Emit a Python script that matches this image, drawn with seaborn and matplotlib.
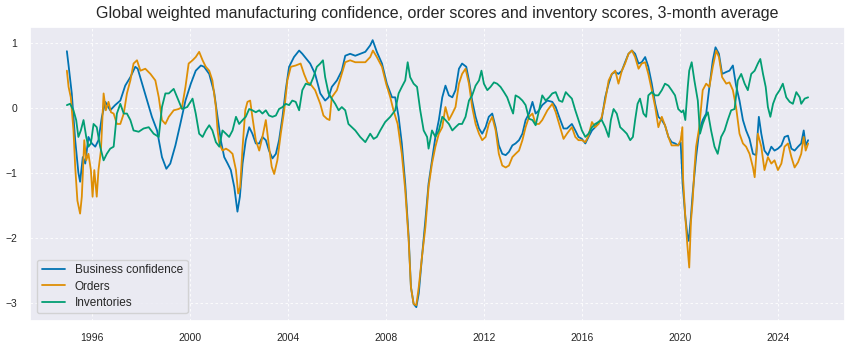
import matplotlib
matplotlib.use("Agg")
import matplotlib.pyplot as plt
import matplotlib.dates as mdates
import numpy as np
import pandas as pd
import seaborn as sns

# Series labels
series_names = ["Business confidence", "Orders", "Inventories"]

# Business confidence: observation times (decimal years) and scores
bc_t = [1994.98, 1995.05, 1995.18, 1995.32, 1995.45, 1995.52, 1995.63, 1995.73, 1995.86, 1996.00,
        1996.14, 1996.27, 1996.41, 1996.55, 1996.75, 1996.95, 1997.16, 1997.36, 1997.57, 1997.77,
        1997.87, 1998.05, 1998.25, 1998.45, 1998.66, 1998.86, 1999.04, 1999.20, 1999.41, 1999.61,
        1999.82, 2000.04, 2000.24, 2000.45, 2000.58, 2000.79, 2000.99, 2001.13, 2001.26, 2001.40,
        2001.54, 2001.67, 2001.81, 2001.94, 2002.04, 2002.15, 2002.28, 2002.42, 2002.55, 2002.69,
        2002.83, 2002.96, 2003.10, 2003.23, 2003.37, 2003.51, 2003.64, 2003.78, 2003.91, 2004.05,
        2004.25, 2004.46, 2004.59, 2004.80, 2004.91, 2005.11, 2005.32, 2005.52, 2005.66, 2005.79,
        2006.00, 2006.20, 2006.34, 2006.54, 2006.75, 2006.95, 2007.16, 2007.36, 2007.46, 2007.63,
        2007.84, 2008.04, 2008.25, 2008.38, 2008.52, 2008.65, 2008.79, 2008.93, 2009.02, 2009.13,
        2009.24, 2009.34, 2009.47, 2009.61, 2009.74, 2009.88, 2010.02, 2010.16, 2010.30, 2010.43,
        2010.57, 2010.71, 2010.84, 2010.98, 2011.11, 2011.28, 2011.39, 2011.52, 2011.66, 2011.80,
        2011.93, 2012.07, 2012.20, 2012.34, 2012.48, 2012.61, 2012.75, 2012.89, 2013.02, 2013.16,
        2013.29, 2013.43, 2013.57, 2013.70, 2013.84, 2013.98, 2014.11, 2014.25, 2014.38, 2014.59,
        2014.79, 2014.93, 2015.07, 2015.25, 2015.39, 2015.59, 2015.73, 2015.86, 2016.00, 2016.14,
        2016.27, 2016.41, 2016.54, 2016.68, 2016.81, 2016.95, 2017.09, 2017.22, 2017.36, 2017.49,
        2017.63, 2017.76, 2017.90, 2018.04, 2018.17, 2018.31, 2018.44, 2018.58, 2018.71, 2018.85,
        2018.99, 2019.12, 2019.26, 2019.39, 2019.53, 2019.66, 2019.80, 2019.93, 2020.03, 2020.11,
        2020.22, 2020.30, 2020.36, 2020.45, 2020.52, 2020.66, 2020.79, 2020.93, 2021.07, 2021.20,
        2021.34, 2021.45, 2021.59, 2021.72, 2021.89, 2022.02, 2022.16, 2022.29, 2022.43, 2022.57,
        2022.70, 2022.84, 2022.98, 2023.11, 2023.22, 2023.32, 2023.45, 2023.59, 2023.73, 2023.86,
        2024.00, 2024.14, 2024.27, 2024.41, 2024.55, 2024.68, 2024.82, 2024.95, 2025.05, 2025.13,
        2025.23]
bc_v = [0.87, 0.65, 0.22, -0.50, -1.00, -1.14, -0.76, -0.86, -0.45, -0.55,
        -0.60, -0.50, -0.14, 0.09, -0.04, 0.04, 0.11, 0.34, 0.47, 0.63,
        0.60, 0.37, 0.11, -0.14, -0.35, -0.76, -0.94, -0.86, -0.58, -0.25,
        0.11, 0.37, 0.57, 0.65, 0.63, 0.52, 0.24, -0.14, -0.50, -0.76,
        -0.86, -0.96, -1.22, -1.60, -1.37, -0.86, -0.50, -0.30, -0.40, -0.55,
        -0.55, -0.45, -0.50, -0.66, -0.78, -0.71, -0.50, -0.14, 0.27, 0.63,
        0.78, 0.88, 0.83, 0.73, 0.68, 0.52, 0.22, 0.11, 0.16, 0.32,
        0.42, 0.57, 0.80, 0.83, 0.80, 0.83, 0.86, 0.96, 1.04, 0.86,
        0.68, 0.37, 0.16, 0.16, -0.14, -0.55, -1.17, -1.99, -2.76, -3.02,
        -3.07, -2.86, -2.30, -1.73, -1.17, -0.81, -0.45, -0.19, 0.16, 0.34,
        0.19, 0.16, 0.27, 0.60, 0.68, 0.63, 0.42, 0.11, -0.14, -0.32,
        -0.40, -0.30, -0.14, -0.09, -0.30, -0.58, -0.71, -0.73, -0.68, -0.58,
        -0.55, -0.50, -0.40, -0.19, -0.09, 0.09, -0.09, -0.04, 0.04, 0.11,
        0.09, 0.01, -0.14, -0.32, -0.32, -0.25, -0.35, -0.45, -0.48, -0.55,
        -0.45, -0.35, -0.30, -0.22, -0.17, 0.16, 0.37, 0.52, 0.55, 0.52,
        0.57, 0.70, 0.83, 0.88, 0.83, 0.68, 0.70, 0.78, 0.63, 0.37,
        0.06, -0.14, -0.19, -0.27, -0.45, -0.53, -0.55, -0.58, -0.53, -1.17,
        -1.68, -1.95, -2.05, -1.68, -1.32, -0.76, -0.35, -0.19, -0.09, 0.32,
        0.73, 0.93, 0.83, 0.52, 0.55, 0.57, 0.65, 0.34, 0.11, -0.19,
        -0.35, -0.48, -0.71, -0.73, -0.14, -0.40, -0.66, -0.73, -0.60, -0.66,
        -0.63, -0.58, -0.45, -0.43, -0.63, -0.66, -0.60, -0.55, -0.35, -0.58,
        -0.50]

# Orders
ord_t = [1994.98, 1995.05, 1995.14, 1995.25, 1995.32, 1995.41, 1995.52, 1995.59, 1995.69, 1995.77,
         1995.86, 1995.96, 1996.03, 1996.10, 1996.20, 1996.27, 1996.37, 1996.48, 1996.57, 1996.68,
         1996.78, 1996.89, 1997.02, 1997.16, 1997.30, 1997.43, 1997.57, 1997.70, 1997.84, 1997.98,
         1998.18, 1998.39, 1998.59, 1998.73, 1998.86, 1999.00, 1999.14, 1999.34, 1999.54, 1999.68,
         1999.82, 1999.95, 2000.11, 2000.24, 2000.38, 2000.52, 2000.65, 2000.79, 2000.92, 2001.06,
         2001.13, 2001.20, 2001.33, 2001.47, 2001.60, 2001.74, 2001.88, 2001.97, 2002.05, 2002.15,
         2002.26, 2002.35, 2002.46, 2002.55, 2002.69, 2002.83, 2002.96, 2003.10, 2003.23, 2003.34,
         2003.44, 2003.57, 2003.71, 2003.85, 2003.98, 2004.12, 2004.32, 2004.52, 2004.66, 2004.80,
         2004.91, 2005.11, 2005.32, 2005.45, 2005.59, 2005.70, 2005.79, 2006.00, 2006.20, 2006.34,
         2006.54, 2006.75, 2006.95, 2007.16, 2007.36, 2007.47, 2007.63, 2007.84, 2008.01, 2008.18,
         2008.31, 2008.48, 2008.65, 2008.79, 2008.93, 2009.02, 2009.13, 2009.24, 2009.34, 2009.47,
         2009.61, 2009.74, 2009.88, 2010.02, 2010.16, 2010.30, 2010.43, 2010.57, 2010.71, 2010.84,
         2010.98, 2011.11, 2011.25, 2011.39, 2011.52, 2011.66, 2011.80, 2011.93, 2012.07, 2012.20,
         2012.34, 2012.48, 2012.61, 2012.75, 2012.89, 2013.02, 2013.16, 2013.29, 2013.43, 2013.57,
         2013.70, 2013.84, 2013.98, 2014.11, 2014.25, 2014.38, 2014.59, 2014.79, 2014.93, 2015.07,
         2015.25, 2015.39, 2015.59, 2015.73, 2015.86, 2016.00, 2016.14, 2016.27, 2016.41, 2016.54,
         2016.68, 2016.81, 2016.95, 2017.09, 2017.22, 2017.36, 2017.49, 2017.63, 2017.76, 2017.90,
         2018.04, 2018.17, 2018.31, 2018.44, 2018.58, 2018.71, 2018.85, 2018.99, 2019.12, 2019.26,
         2019.39, 2019.53, 2019.66, 2019.80, 2019.93, 2020.03, 2020.10, 2020.13, 2020.22, 2020.30,
         2020.38, 2020.45, 2020.52, 2020.59, 2020.66, 2020.79, 2020.93, 2021.07, 2021.20, 2021.34,
         2021.48, 2021.59, 2021.72, 2021.89, 2022.02, 2022.16, 2022.29, 2022.43, 2022.57, 2022.70,
         2022.84, 2022.98, 2023.05, 2023.18, 2023.32, 2023.45, 2023.59, 2023.73, 2023.86, 2024.00,
         2024.14, 2024.27, 2024.41, 2024.55, 2024.68, 2024.82, 2024.95, 2025.05, 2025.13, 2025.23]
ord_v = [0.57, 0.32, 0.16, -0.35, -0.91, -1.43, -1.63, -1.37, -0.50, -0.81,
         -0.71, -0.96, -1.37, -0.96, -1.37, -0.96, -0.66, 0.22, -0.04, 0.09,
         -0.07, -0.09, -0.25, -0.25, -0.09, 0.22, 0.42, 0.68, 0.73, 0.57,
         0.60, 0.52, 0.42, 0.16, -0.19, -0.25, -0.14, -0.04, -0.02, 0.01,
         0.32, 0.68, 0.73, 0.78, 0.86, 0.73, 0.63, 0.57, 0.42, 0.01,
         -0.35, -0.55, -0.66, -0.63, -0.66, -0.71, -0.96, -1.32, -1.22, -0.61,
         -0.04, 0.09, 0.11, -0.14, -0.50, -0.66, -0.45, -0.19, -0.60, -0.91,
         -1.02, -0.81, -0.40, -0.04, 0.42, 0.63, 0.65, 0.68, 0.52, 0.39,
         0.37, 0.27, 0.06, -0.12, -0.17, -0.19, 0.16, 0.27, 0.52, 0.70,
         0.73, 0.70, 0.70, 0.70, 0.78, 0.88, 0.78, 0.63, 0.37, 0.16,
         -0.04, -0.25, -0.71, -1.27, -2.04, -2.76, -3.02, -3.04, -2.76, -2.30,
         -1.84, -1.22, -0.86, -0.60, -0.40, -0.30, 0.01, -0.19, -0.09, 0.01,
         0.37, 0.52, 0.60, 0.37, 0.01, -0.25, -0.40, -0.50, -0.45, -0.25,
         -0.14, -0.35, -0.71, -0.89, -0.92, -0.89, -0.76, -0.71, -0.66, -0.50,
         -0.30, -0.14, -0.09, -0.25, -0.25, -0.19, -0.04, 0.06, -0.07, -0.25,
         -0.48, -0.40, -0.30, -0.45, -0.50, -0.50, -0.53, -0.43, -0.22, -0.30,
         -0.25, -0.14, 0.11, 0.42, 0.52, 0.57, 0.37, 0.57, 0.68, 0.83,
         0.88, 0.78, 0.60, 0.68, 0.70, 0.52, 0.27, 0.01, -0.30, -0.14,
         -0.27, -0.45, -0.58, -0.58, -0.58, -0.50, -0.30, -1.10, -1.68, -2.10,
         -2.46, -1.75, -1.43, -0.96, -0.60, -0.30, 0.27, 0.37, 0.32, 0.63,
         0.88, 0.78, 0.47, 0.37, 0.39, 0.27, 0.01, -0.40, -0.55, -0.60,
         -0.71, -0.92, -1.07, -0.40, -0.60, -0.96, -0.76, -0.86, -0.81, -0.96,
         -0.86, -0.60, -0.55, -0.76, -0.92, -0.84, -0.71, -0.45, -0.66, -0.55]

# Inventories
inv_t = [1994.98, 1995.11, 1995.25, 1995.36, 1995.45, 1995.55, 1995.66, 1995.77, 1995.86, 1995.96,
         1996.07, 1996.20, 1996.34, 1996.48, 1996.61, 1996.75, 1996.89, 1997.02, 1997.16, 1997.30,
         1997.43, 1997.57, 1997.70, 1997.91, 1998.11, 1998.32, 1998.52, 1998.73, 1998.86, 1999.00,
         1999.14, 1999.34, 1999.54, 1999.68, 1999.89, 2000.11, 2000.24, 2000.38, 2000.52, 2000.65,
         2000.79, 2000.92, 2001.06, 2001.20, 2001.33, 2001.47, 2001.60, 2001.74, 2001.88, 2002.01,
         2002.15, 2002.28, 2002.42, 2002.55, 2002.69, 2002.83, 2002.96, 2003.10, 2003.23, 2003.37,
         2003.51, 2003.64, 2003.78, 2003.91, 2004.05, 2004.18, 2004.32, 2004.46, 2004.59, 2004.73,
         2004.91, 2005.04, 2005.18, 2005.32, 2005.43, 2005.52, 2005.66, 2005.79, 2005.93, 2006.07,
         2006.20, 2006.34, 2006.47, 2006.61, 2006.75, 2006.95, 2007.16, 2007.36, 2007.50, 2007.63,
         2007.77, 2007.97, 2008.18, 2008.38, 2008.52, 2008.65, 2008.79, 2008.89, 2008.99, 2009.13,
         2009.27, 2009.40, 2009.54, 2009.68, 2009.74, 2009.88, 2010.02, 2010.16, 2010.30, 2010.43,
         2010.57, 2010.71, 2010.84, 2010.98, 2011.11, 2011.25, 2011.39, 2011.52, 2011.66, 2011.80,
         2011.90, 2012.00, 2012.14, 2012.27, 2012.41, 2012.54, 2012.68, 2012.82, 2012.95, 2013.09,
         2013.19, 2013.29, 2013.43, 2013.57, 2013.70, 2013.84, 2013.98, 2014.11, 2014.25, 2014.38,
         2014.52, 2014.66, 2014.79, 2014.93, 2015.07, 2015.20, 2015.34, 2015.46, 2015.59, 2015.73,
         2015.86, 2016.00, 2016.14, 2016.27, 2016.41, 2016.54, 2016.68, 2016.81, 2016.95, 2017.09,
         2017.18, 2017.29, 2017.42, 2017.56, 2017.70, 2017.83, 2017.97, 2018.08, 2018.17, 2018.27,
         2018.37, 2018.51, 2018.62, 2018.71, 2018.85, 2018.99, 2019.12, 2019.26, 2019.39, 2019.53,
         2019.66, 2019.80, 2019.93, 2020.07, 2020.14, 2020.22, 2020.32, 2020.38, 2020.48, 2020.59,
         2020.73, 2020.82, 2020.93, 2021.04, 2021.14, 2021.27, 2021.41, 2021.54, 2021.68, 2021.82,
         2021.95, 2022.09, 2022.23, 2022.36, 2022.50, 2022.64, 2022.77, 2022.91, 2023.05, 2023.18,
         2023.28, 2023.39, 2023.50, 2023.59, 2023.69, 2023.80, 2023.93, 2024.07, 2024.20, 2024.34,
         2024.48, 2024.61, 2024.75, 2024.89, 2024.95, 2025.09, 2025.23]
inv_v = [0.04, 0.06, -0.04, -0.19, -0.45, -0.35, -0.19, -0.45, -0.60, -0.55,
         -0.25, -0.30, -0.60, -0.81, -0.71, -0.63, -0.60, -0.09, 0.06, -0.09,
         -0.09, -0.19, -0.35, -0.37, -0.32, -0.30, -0.40, -0.45, 0.01, 0.22,
         0.22, 0.29, 0.11, -0.02, 0.01, 0.14, -0.09, -0.40, -0.45, -0.35,
         -0.27, -0.35, -0.53, -0.60, -0.35, -0.40, -0.45, -0.35, -0.14, -0.25,
         -0.19, -0.14, -0.02, -0.04, -0.07, -0.04, -0.09, -0.04, -0.12, -0.14,
         -0.12, -0.02, 0.01, 0.06, 0.04, 0.11, 0.09, -0.04, 0.27, 0.37,
         0.35, 0.47, 0.63, 0.68, 0.73, 0.47, 0.22, 0.14, 0.06, -0.04,
         0.01, -0.04, -0.25, -0.30, -0.35, -0.45, -0.53, -0.40, -0.48, -0.45,
         -0.35, -0.22, -0.14, -0.04, 0.22, 0.32, 0.42, 0.70, 0.47, 0.37,
         0.32, -0.04, -0.35, -0.45, -0.63, -0.35, -0.45, -0.35, -0.14, -0.19,
         -0.25, -0.35, -0.30, -0.25, -0.25, -0.14, 0.11, 0.19, 0.34, 0.42,
         0.57, 0.37, 0.27, 0.32, 0.39, 0.37, 0.32, 0.24, 0.16, 0.01,
         -0.09, 0.19, 0.16, 0.11, 0.04, -0.17, -0.19, -0.27, -0.04, 0.19,
         0.11, 0.16, 0.22, 0.24, 0.11, 0.09, 0.24, 0.19, 0.14, -0.04,
         -0.19, -0.35, -0.45, -0.40, -0.30, -0.25, -0.22, -0.19, -0.30, -0.45,
         -0.19, -0.02, -0.09, -0.30, -0.35, -0.40, -0.50, -0.45, -0.19, 0.06,
         0.14, -0.09, -0.14, 0.19, 0.24, 0.19, 0.19, 0.27, 0.37, 0.34,
         0.27, 0.19, -0.02, -0.07, -0.04, -0.19, 0.32, 0.57, 0.70, 0.42,
         0.11, -0.40, -0.25, -0.14, -0.07, -0.35, -0.60, -0.71, -0.45, -0.35,
         -0.19, -0.04, -0.02, 0.42, 0.52, 0.37, 0.27, 0.52, 0.57, 0.68,
         0.75, 0.52, 0.32, 0.01, -0.14, 0.06, 0.19, 0.27, 0.37, 0.16,
         0.09, 0.06, 0.24, 0.16, 0.06, 0.14, 0.16]


def to_dates(years):
    out = []
    for y in years:
        base = int(np.floor(y))
        out.append(pd.Timestamp(base, 1, 1) + pd.Timedelta(days=(y - base) * 365.25))
    return out


frames = []
for name, t, v in zip(series_names, [bc_t, ord_t, inv_t], [bc_v, ord_v, inv_v]):
    frames.append(pd.DataFrame({"date": to_dates(t), "value": v, "series": name}))
df = pd.concat(frames, ignore_index=True)

sns.set_theme(style="darkgrid", rc={"grid.linestyle": (0, (3, 3)), "grid.linewidth": 0.6})
plt.rcParams["font.family"] = ["Liberation Sans", "DejaVu Sans"]

fig = plt.figure(figsize=(8.52, 3.48), dpi=100)
ax = fig.add_axes([0.035, 0.079, 0.957, 0.844])

sns.lineplot(data=df, x="date", y="value", hue="series", hue_order=series_names,
             palette="colorblind", estimator=None, linewidth=1.3, ax=ax)

ax.xaxis.set_major_locator(mdates.YearLocator(4))
ax.xaxis.set_major_formatter(mdates.DateFormatter("%Y"))
ax.set_xlabel("")
ax.set_ylabel("")
ax.tick_params(labelsize=7.5, pad=3)
ax.set_title("Global weighted manufacturing confidence, order scores and inventory scores, 3-month average",
             fontsize=11.5, pad=6)
ax.legend(loc="lower left", fontsize=8.5, labelspacing=0.35, borderaxespad=0.6)

fig.savefig("out.png", dpi=100)
